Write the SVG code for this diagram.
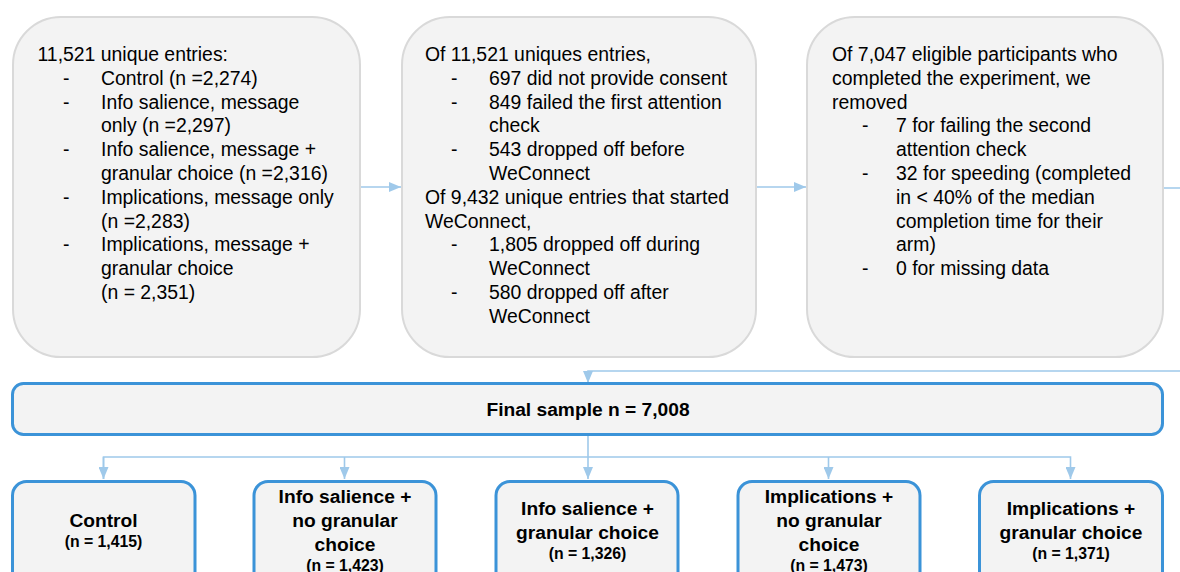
<svg xmlns="http://www.w3.org/2000/svg" width="1180" height="572" viewBox="0 0 1180 572">
<defs>
<style>
.top{fill:#f3f3f3;stroke:#d9d9d9;stroke-width:2}
.blue{fill:#f3f3f3;stroke:#3b93d8;stroke-width:3}
.t{font-family:"Liberation Sans",Arial,sans-serif;font-size:19.4px;fill:#000}
.b{font-family:"Liberation Sans",Arial,sans-serif;font-size:19.2px;font-weight:bold;fill:#000;text-anchor:middle}
.s{font-family:"Liberation Sans",Arial,sans-serif;font-size:15.8px;font-weight:bold;fill:#000;text-anchor:middle}
.c{fill:none;stroke:#9fc9ea;stroke-width:1.6}
</style>
<marker id="ah" markerUnits="userSpaceOnUse" markerWidth="12" markerHeight="10" refX="12" refY="5" orient="auto">
<path d="M0,0 L12,5 L0,10 Z" fill="#9fc9ea"/>
</marker>
</defs>
<rect width="1180" height="572" fill="#fff"/>

<g id="connectors">
<line class="c" x1="360" y1="187" x2="401" y2="187" marker-end="url(#ah)"/>
<line class="c" x1="756" y1="187" x2="806" y2="187" marker-end="url(#ah)"/>
<path class="c" d="M1163,188 H1182 M1182,371 H588 V383" marker-end="url(#ah)"/>
<line class="c" x1="588" y1="435" x2="588" y2="479" marker-end="url(#ah)"/>
<path class="c" d="M103.5,479 V457 H1070.5 V479" marker-end="url(#ah)"/>
<line class="c" x1="103.5" y1="457" x2="103.5" y2="479" marker-end="url(#ah)"/>
<line class="c" x1="344.5" y1="457" x2="344.5" y2="479" marker-end="url(#ah)"/>
<line class="c" x1="828.5" y1="457" x2="828.5" y2="479" marker-end="url(#ah)"/>
</g>

<g id="entries">
<rect class="top" x="13" y="17" width="347" height="340" rx="48"/>
<text class="t" x="37.5" y="61">11,521 unique entries:</text>
<g class="t">
<text x="63" y="84.8">-</text><text x="101" y="84.8">Control (n =2,274)</text>
<text x="63" y="108.6">-</text><text x="101" y="108.6">Info salience, message</text>
<text x="101" y="132.4">only (n =2,297)</text>
<text x="63" y="156.2">-</text><text x="101" y="156.2">Info salience, message +</text>
<text x="101" y="180">granular choice (n =2,316)</text>
<text x="63" y="203.8">-</text><text x="101" y="203.8">Implications, message only</text>
<text x="101" y="227.6">(n =2,283)</text>
<text x="63" y="251.4">-</text><text x="101" y="251.4">Implications, message +</text>
<text x="101" y="275.2">granular choice</text>
<text x="101" y="299">(n = 2,351)</text>
</g>
</g>

<g id="exclusions1">
<rect class="top" x="402" y="17" width="354" height="340" rx="48"/>
<g class="t">
<text x="425" y="61">Of 11,521 uniques entries,</text>
<text x="451" y="84.8">-</text><text x="489" y="84.8">697 did not provide consent</text>
<text x="451" y="108.6">-</text><text x="489" y="108.6">849 failed the first attention</text>
<text x="489" y="132.4">check</text>
<text x="451" y="156.2">-</text><text x="489" y="156.2">543 dropped off before</text>
<text x="489" y="180">WeConnect</text>
<text x="425" y="203.8">Of 9,432 unique entries that started</text>
<text x="425" y="227.6">WeConnect,</text>
<text x="451" y="251.4">-</text><text x="489" y="251.4">1,805 dropped off during</text>
<text x="489" y="275.2">WeConnect</text>
<text x="451" y="299">-</text><text x="489" y="299">580 dropped off after</text>
<text x="489" y="322.8">WeConnect</text>
</g>
</g>

<g id="exclusions2">
<rect class="top" x="807" y="17" width="356" height="340" rx="48"/>
<g class="t">
<text x="832" y="61">Of 7,047 eligible participants who</text>
<text x="832" y="84.8">completed the experiment, we</text>
<text x="832" y="108.6">removed</text>
<text x="862" y="132.4">-</text><text x="896" y="132.4">7 for failing the second</text>
<text x="896" y="156.2">attention check</text>
<text x="862" y="180">-</text><text x="896" y="180">32 for speeding (completed</text>
<text x="896" y="203.8">in &lt; 40% of the median</text>
<text x="896" y="227.6">completion time for their</text>
<text x="896" y="251.4">arm)</text>
<text x="862" y="275.2">-</text><text x="896" y="275.2">0 for missing data</text>
</g>
</g>

<g id="final">
<rect class="blue" x="12.5" y="383.5" width="1150" height="51" rx="11"/>
<text class="b" x="588" y="416">Final sample n = 7,008</text>
</g>

<g id="control">
<rect class="blue" x="12.5" y="481.5" width="182.5" height="120" rx="14"/>
<text class="b" x="103.5" y="527">Control</text>
<text class="s" x="103.5" y="547">(n = 1,415)</text>
</g>
<g id="info-nogran">
<rect class="blue" x="254" y="481.5" width="182" height="120" rx="14"/>
<text class="b" x="345" y="503">Info salience +</text>
<text class="b" x="345" y="527">no granular</text>
<text class="b" x="345" y="551">choice</text>
<text class="s" x="345" y="571">(n = 1,423)</text>
</g>
<g id="info-gran">
<rect class="blue" x="496" y="481.5" width="182" height="120" rx="14"/>
<text class="b" x="587.5" y="515">Info salience +</text>
<text class="b" x="587.5" y="539">granular choice</text>
<text class="s" x="587.5" y="559">(n = 1,326)</text>
</g>
<g id="impl-nogran">
<rect class="blue" x="738" y="481.5" width="182" height="120" rx="14"/>
<text class="b" x="829" y="503">Implications +</text>
<text class="b" x="829" y="527">no granular</text>
<text class="b" x="829" y="551">choice</text>
<text class="s" x="829" y="571">(n = 1,473)</text>
</g>
<g id="impl-gran">
<rect class="blue" x="979.5" y="481.5" width="183" height="120" rx="14"/>
<text class="b" x="1071" y="515">Implications +</text>
<text class="b" x="1071" y="539">granular choice</text>
<text class="s" x="1071" y="559">(n = 1,371)</text>
</g>
</svg>
